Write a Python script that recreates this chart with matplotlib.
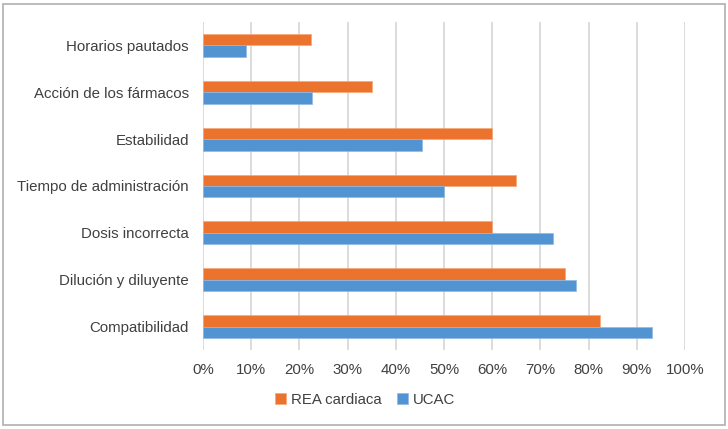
import numpy as np
import matplotlib.pyplot as plt
from matplotlib.patches import Rectangle
from matplotlib.ticker import PercentFormatter

categories = ["Compatibilidad", "Dilución y diluyente", "Dosis incorrecta",
              "Tiempo de administración", "Estabilidad", "Acción de los fármacos",
              "Horarios pautados"]
rea_cardiaca = [82.3, 75.0, 60.0, 65.0, 60.0, 35.0, 22.4]
ucac = [93.1, 77.4, 72.6, 50.0, 45.5, 22.7, 9.0]
x_ticks = [0, 10, 20, 30, 40, 50, 60, 70, 80, 90, 100]

plt.rcParams['font.family'] = ['Liberation Sans', 'DejaVu Sans']

orange = "#EB732E"
blue = "#5294D2"
text_col = "#404040"
fs = 10.8

fig = plt.figure(figsize=(7.28, 4.29), dpi=100)
# chart border
fig.patches.append(Rectangle((3 / 728, 4 / 429), 722 / 728, 421 / 429,
                             transform=fig.transFigure, fill=False,
                             edgecolor="#B0B0B0", linewidth=1.2))

ax = fig.add_axes([203 / 728, 79 / 429, 482 / 728, 328 / 429])

y = np.arange(len(categories))
h = 0.245
ax.barh(y + h / 2, rea_cardiaca, height=h, color=orange, label="REA cardiaca",
        edgecolor="#F4A878", linewidth=0.5, zorder=3)
ax.barh(y - h / 2, ucac, height=h, color=blue, label="UCAC",
        edgecolor="#8DB9E4", linewidth=0.5, zorder=3)

ax.set_xlim(0, 100)
ax.set_ylim(-0.5, len(categories) - 0.5)
ax.set_xticks(x_ticks)
ax.xaxis.set_major_formatter(PercentFormatter(decimals=0))
ax.set_yticks(y)
ax.set_yticklabels(categories)

ax.grid(axis="x", color="#D9D9D9", linewidth=1.3, zorder=0)
ax.set_axisbelow(True)
for s in ax.spines.values():
    s.set_visible(False)
ax.tick_params(axis="both", length=0, labelsize=fs, colors=text_col)
ax.tick_params(axis="x", pad=9)
ax.tick_params(axis="y", pad=10)

handles, labels = ax.get_legend_handles_labels()
fig.legend(handles, labels, loc="center", bbox_to_anchor=(365 / 728, 1 - 400 / 429),
           ncol=2, frameon=False, fontsize=fs, handlelength=0.75, handleheight=0.75,
           handletextpad=0.35, columnspacing=1.0, labelcolor=text_col)

fig.savefig("out.png", dpi=100)
